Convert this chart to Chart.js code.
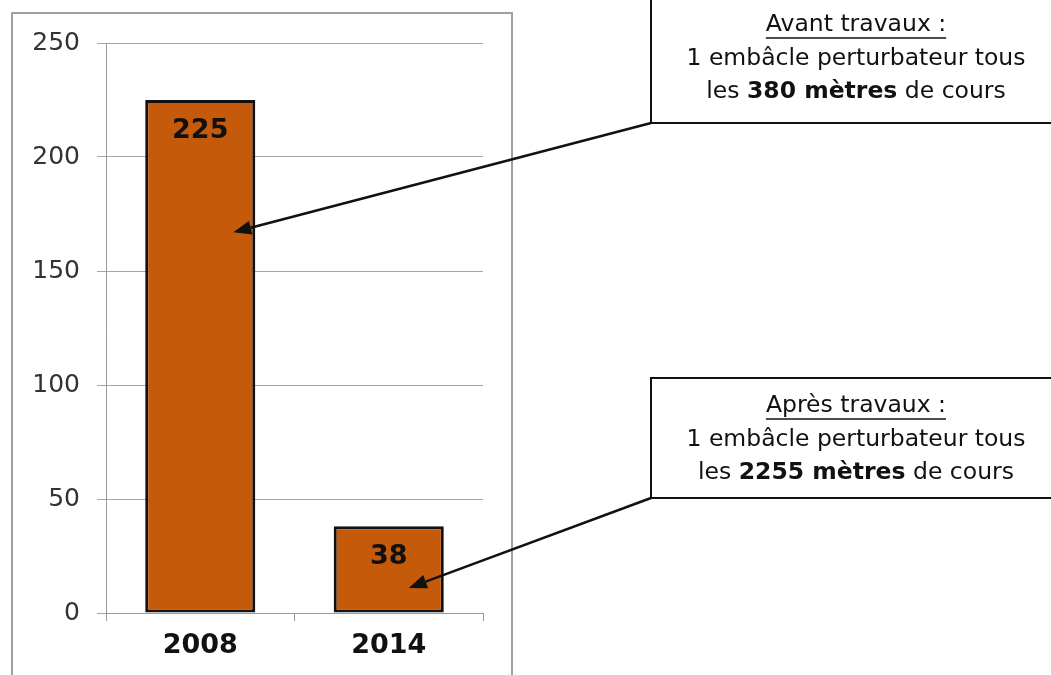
<!DOCTYPE html>
<html>
<head>
<meta charset="utf-8">
<script src="https://cdn.jsdelivr.net/npm/chart.js@4/dist/chart.umd.min.js"></script>
<style>
  body { margin: 0; background: #fff; }
  canvas { display: block; }
</style>
</head>
<body>
<canvas id="barChart" width="1051" height="675"></canvas>
<script>
// Nombre d'embâcles perturbateurs
const categories = ['2008', '2014'];
const counts = [225, 38];
const yMax = 250;
const yStep = 50;

// Annotation boxes (text lines)
const notes = [
    { title: 'Avant travaux :', line2: '1 embâcle perturbateur tous', pre: 'les ', bold: '380 mètres', post: ' de cours',
      box: [651, -10, 420, 133], textY: 25, index: 0, target: 167, dx: 33 },
    { title: 'Après travaux :', line2: '1 embâcle perturbateur tous', pre: 'les ', bold: '2255 mètres', post: ' de cours',
      box: [651, 378, 420, 120], textY: 406, index: 1, target: 11, dx: 20 }
];

const FONT = '"DejaVu Sans", Verdana, sans-serif';
const NOTE_SIZE = 23.5;

function arrow(ctx, x1, y1, x2, y2) {
    const ang = Math.atan2(y2 - y1, x2 - x1);
    const len = 18, half = 7;
    const bx = x2 - len * Math.cos(ang), by = y2 - len * Math.sin(ang);
    ctx.beginPath();
    ctx.moveTo(x1, y1);
    ctx.lineTo(bx, by);
    ctx.stroke();
    ctx.beginPath();
    ctx.moveTo(x2, y2);
    ctx.lineTo(bx + half * Math.sin(ang), by - half * Math.cos(ang));
    ctx.lineTo(bx - half * Math.sin(ang), by + half * Math.cos(ang));
    ctx.closePath();
    ctx.fill();
}

const extras = {
    id: 'extras',
    afterDraw(chart) {
        const ctx = chart.ctx;
        const x = chart.scales.x, y = chart.scales.y;
        ctx.save();

        // outer frame of the chart
        ctx.strokeStyle = '#a0a0a0';
        ctx.lineWidth = 2;
        ctx.strokeRect(12, 13, 500, 700);

        // values inside bars
        ctx.fillStyle = '#111';
        ctx.font = 'bold 27px ' + FONT;
        ctx.textAlign = 'center';
        ctx.textBaseline = 'middle';
        chart.getDatasetMeta(0).data.forEach((bar, i) => {
            ctx.fillText(String(counts[i]), bar.x, bar.y + 31);
        });

        // annotation boxes and arrows
        notes.forEach(n => {
            const [bx, by, bw, bh] = n.box;
            ctx.fillStyle = '#fff';
            ctx.fillRect(bx, by, bw, bh);
            ctx.strokeStyle = '#111';
            ctx.lineWidth = 2;
            ctx.strokeRect(bx, by, bw, bh);

            const cx = 856;
            ctx.fillStyle = '#111';
            ctx.textAlign = 'center';
            ctx.textBaseline = 'middle';
            ctx.font = NOTE_SIZE + 'px ' + FONT;
            ctx.fillText(n.title, cx, n.textY);
            const tw = ctx.measureText(n.title).width;
            ctx.lineWidth = 1.5;
            ctx.beginPath();
            ctx.moveTo(cx - tw / 2, n.textY + 13);
            ctx.lineTo(cx + tw / 2, n.textY + 13);
            ctx.stroke();

            ctx.fillText(n.line2, cx, n.textY + 34);

            const reg = NOTE_SIZE + 'px ' + FONT, bld = 'bold ' + NOTE_SIZE + 'px ' + FONT;
            ctx.font = reg;
            const w1 = ctx.measureText(n.pre).width, w3 = ctx.measureText(n.post).width;
            ctx.font = bld;
            const w2 = ctx.measureText(n.bold).width;
            let sx = cx - (w1 + w2 + w3) / 2;
            const ly = n.textY + 67;
            ctx.textAlign = 'left';
            ctx.font = reg; ctx.fillText(n.pre, sx, ly); sx += w1;
            ctx.font = bld; ctx.fillText(n.bold, sx, ly); sx += w2;
            ctx.font = reg; ctx.fillText(n.post, sx, ly);

            ctx.lineWidth = 2.5;
            arrow(ctx, bx, by + bh, x.getPixelForValue(n.index) + n.dx, y.getPixelForValue(n.target));
        });

        ctx.restore();
    }
};

new Chart(document.getElementById('barChart'), {
    type: 'bar',
    data: {
        labels: categories,
        datasets: [{
            data: counts,
            backgroundColor: '#c55a0a',
            borderColor: '#111',
            borderWidth: 3,
            borderSkipped: false,
            categoryPercentage: 1,
            barPercentage: 0.584
        }]
    },
    options: {
        responsive: false,
        animation: false,
        layout: { padding: { top: 43, right: 568, left: 0, bottom: 0 } },
        plugins: {
            legend: { display: false },
            tooltip: { enabled: false }
        },
        scales: {
            x: {
                grid: { offset: true, drawOnChartArea: false, tickLength: 8, color: '#999' },
                border: { color: '#999' },
                ticks: { color: '#111', font: { family: FONT, size: 27, weight: 'bold' }, padding: 9 },
                afterFit(scale) { scale.height = 62; }
            },
            y: {
                min: 0,
                max: yMax,
                ticks: { stepSize: yStep, color: '#333', font: { family: FONT, size: 25 }, padding: 17 },
                grid: { color: '#a6a6a6', tickLength: 9 },
                border: { color: '#999' },
                afterFit(scale) { scale.width = 106; }
            }
        }
    },
    plugins: [extras]
});
</script>
</body>
</html>
